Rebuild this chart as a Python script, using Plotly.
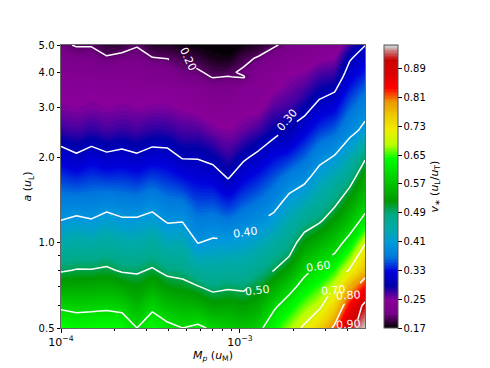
import math
import plotly.graph_objects as go

mass = [1.0e-4,1.22e-4,1.48e-4,1.8e-4,2.19e-4,2.66e-4,3.24e-4,3.94e-4,4.78e-4,5.82e-4,7.07e-4,
        8.6e-4,1.05e-3,1.27e-3,1.55e-3,1.88e-3,2.29e-3,2.78e-3,3.38e-3,4.11e-3,5.0e-3]
radius = [0.5,0.6,0.7,0.8,0.9,1.0,1.2,1.4,1.7,2.0,2.5,3.0,3.5,3.85,4.0,4.5,5.0]

# one list per mass column, from a = 0.5 up to a = 5.0
v_by_mass = [
 [.645,.59,.54,.495,.47,.445,.40,.376,.345,.319,.272,.252,.245,.24,.235,.22,.205],
 [.634,.584,.541,.502,.476,.451,.408,.376,.339,.306,.268,.25,.242,.235,.23,.212,.198],
 [.637,.586,.542,.502,.474,.448,.402,.376,.345,.318,.274,.252,.245,.235,.23,.212,.198],
 [.639,.589,.545,.507,.48,.456,.415,.381,.342,.308,.268,.25,.24,.23,.225,.203,.185],
 [.637,.583,.537,.495,.47,.447,.405,.376,.343,.313,.272,.252,.243,.232,.228,.208,.188],
 [.6,.56,.524,.493,.468,.446,.405,.375,.338,.306,.269,.25,.24,.23,.225,.21,.198],
 [.636,.586,.543,.505,.478,.455,.414,.383,.347,.316,.275,.252,.24,.225,.22,.201,.182],
 [.613,.564,.522,.487,.46,.435,.395,.37,.34,.314,.274,.252,.24,.222,.218,.199,.18],
 [.6,.555,.515,.483,.459,.436,.397,.367,.33,.298,.267,.247,.235,.212,.208,.192,.175],
 [.61,.55,.502,.46,.427,.399,.372,.349,.322,.298,.265,.243,.23,.207,.204,.187,.172],
 [.592,.532,.487,.456,.431,.407,.374,.349,.318,.29,.255,.236,.218,.199,.193,.178,.17],
 [.583,.535,.494,.461,.433,.408,.368,.337,.298,.275,.25,.236,.218,.201,.195,.175,.17],
 [.573,.528,.491,.462,.438,.416,.381,.354,.322,.295,.258,.243,.235,.198,.205,.192,.175],
 [.586,.544,.508,.477,.452,.429,.391,.366,.336,.31,.27,.243,.235,.23,.225,.203,.18],
 [.635,.59,.543,.5,.475,.452,.412,.384,.354,.328,.288,.264,.245,.24,.235,.218,.196],
 [.672,.625,.58,.535,.498,.477,.442,.412,.375,.34,.292,.27,.256,.25,.247,.23,.21],
 [.708,.662,.621,.585,.553,.524,.473,.431,.388,.36,.32,.288,.266,.255,.25,.235,.22],
 [.75,.69,.65,.615,.582,.55,.493,.46,.42,.387,.344,.312,.285,.27,.265,.245,.23],
 [.81,.745,.692,.645,.605,.577,.527,.488,.443,.404,.358,.324,.295,.276,.27,.25,.23],
 [.915,.84,.78,.705,.66,.62,.568,.53,.48,.437,.386,.359,.335,.32,.314,.296,.27],
 [.956,.915,.835,.77,.735,.695,.615,.575,.535,.495,.41,.385,.36,.342,.335,.318,.299],
]
v_star = [list(row) for row in zip(*v_by_mass)]

# grid cells (mass index, radius index) where a contour line breaks for its label
label_gaps = [(8,15),(8,14),(15,10),(11,5),(12,5),(13,6),(13,2),(13,3),(17,3),(17,4),(18,2),(19,2),(19,0)]
v_lines = [list(row) for row in v_star]
for i, j in label_gaps:
    v_lines[j][i] = None

label_text = ["0.20","0.30","0.40","0.50","0.60","0.70","0.80","0.90"]
label_mass = [5.12e-4,1.85e-3,1.07e-3,1.26e-3,2.76e-3,3.35e-3,4.06e-3,4.06e-3]
label_a = [4.43,2.72,1.09,0.681,0.828,0.681,0.649,0.516]
label_angle = [65,-50,-8,-7,-8,-5,-3,-3]

bar_ticks = [0.17,0.25,0.33,0.41,0.49,0.57,0.65,0.73,0.81,0.89]
y_ticks = [0.5,1.0,2.0,3.0,4.0,5.0]
y_tick_text = ["0.5","1.0","2.0","3.0","4.0","5.0"]
y_minor = [0.6,0.7,0.8,0.9]

nipy_spectral = [
 [0.00,"rgb(0,0,0)"],[0.05,"rgb(119,0,136)"],[0.10,"rgb(136,0,153)"],[0.15,"rgb(0,0,170)"],
 [0.20,"rgb(0,0,221)"],[0.25,"rgb(0,119,221)"],[0.30,"rgb(0,153,221)"],[0.35,"rgb(0,170,170)"],
 [0.40,"rgb(0,170,136)"],[0.45,"rgb(0,153,0)"],[0.50,"rgb(0,187,0)"],[0.55,"rgb(0,221,0)"],
 [0.60,"rgb(0,255,0)"],[0.65,"rgb(187,255,0)"],[0.70,"rgb(238,238,0)"],[0.75,"rgb(238,204,0)"],
 [0.80,"rgb(238,153,0)"],[0.85,"rgb(255,0,0)"],[0.90,"rgb(221,0,0)"],[0.95,"rgb(204,0,0)"],
 [1.00,"rgb(204,204,204)"]]

FONT = "DejaVu Sans"
fig = go.Figure()
fig.add_trace(go.Contour(
    x=mass, y=radius, z=v_star, colorscale=nipy_spectral, zmin=0.17, zmax=0.956,
    autocontour=False, contours=dict(start=0.17, end=0.956, size=0.004, coloring="fill", showlines=False),
    line=dict(width=0), hoverinfo="skip",
    colorbar=dict(
        x=1.0625, xanchor="left", xpad=0, ypad=0, y=0.5, yanchor="middle", len=1, lenmode="fraction",
        thickness=14, thicknessmode="pixels", outlinewidth=1, outlinecolor="#555",
        tickmode="array", tickvals=bar_ticks, ticktext=[f"{t:.2f}" for t in bar_ticks],
        ticks="outside", ticklen=3.5, tickwidth=1, tickcolor="#000",
        tickfont=dict(family=FONT, size=10, color="#000"),
        title=dict(text="<i>v</i><sub>∗</sub> (<i>u</i><sub>L</sub>/<i>u</i><sub>T</sub>)", side="right",
                   font=dict(family=FONT, size=11, color="#000")),
    ),
))
fig.add_trace(go.Contour(
    x=mass, y=radius, z=v_lines, showscale=False, autocontour=False, connectgaps=False,
    contours=dict(start=0.2, end=0.9, size=0.1, coloring="none", showlabels=False),
    line=dict(color="white", width=1.5, smoothing=0), hoverinfo="skip",
))

fig.update_layout(
    width=490, height=368, margin=dict(l=53, r=133, t=37, b=48),
    paper_bgcolor="white", plot_bgcolor="white", showlegend=False,
    font=dict(family=FONT, size=10, color="#000"),
    xaxis=dict(
        type="log", range=[-4, -2.30103], showgrid=False, zeroline=False,
        tickmode="array", tickvals=[1e-4, 1e-3], ticktext=["10<sup>−4</sup>", "10<sup>−3</sup>"],
        ticks="outside", ticklen=3.5, tickwidth=1, tickcolor="#000",
        minor=dict(tickmode="array", tickvals=[2e-4,3e-4,4e-4,5e-4,6e-4,7e-4,8e-4,9e-4,2e-3,3e-3,4e-3],
                   ticks="outside", ticklen=2, tickwidth=0.8, tickcolor="#000", showgrid=False),
        showline=True, mirror=True, linecolor="#666", linewidth=1,
        tickfont=dict(family=FONT, size=11, color="#000"),
        title=dict(text="<i>M</i><sub><i>p</i></sub> (<i>u</i><sub>M</sub>)", standoff=3,
                   font=dict(family=FONT, size=11, color="#000")),
    ),
    yaxis=dict(
        type="log", range=[-0.30103, 0.69897], showgrid=False, zeroline=False,
        tickmode="array", tickvals=y_ticks, ticktext=y_tick_text,
        ticks="outside", ticklen=3.5, tickwidth=1, tickcolor="#000",
        minor=dict(tickmode="array", tickvals=y_minor, ticks="outside", ticklen=2, tickwidth=0.8,
                   tickcolor="#000", showgrid=False),
        showline=True, mirror=True, linecolor="#666", linewidth=1,
        tickfont=dict(family=FONT, size=10, color="#000"),
        title=dict(text="<i>a</i> (<i>u</i><sub>L</sub>)", standoff=4,
                   font=dict(family=FONT, size=11, color="#000")),
    ),
    annotations=[
        dict(x=math.log10(m), y=math.log10(a), xref="x", yref="y", text=t, textangle=ang,
             showarrow=False, font=dict(family=FONT, size=11, color="white"))
        for t, m, a, ang in zip(label_text, label_mass, label_a, label_angle)
    ],
)
fig.write_html("out.html")
